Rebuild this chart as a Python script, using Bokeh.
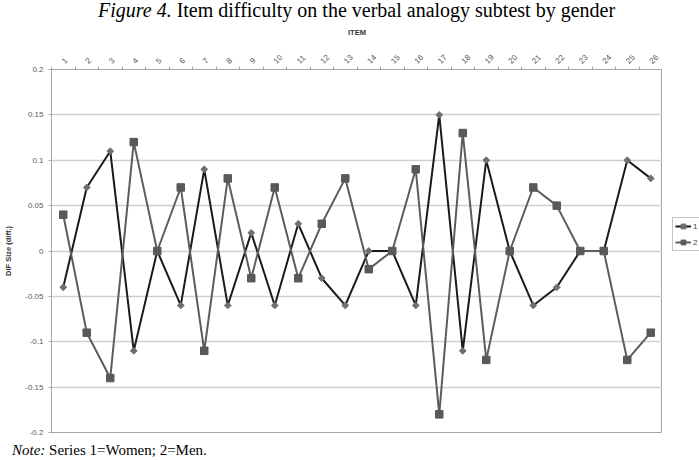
import math
from bokeh.plotting import figure
from bokeh.layouts import column, row
from bokeh.models import FixedTicker, Legend, LegendItem, Div
from bokeh.embed import file_html
from bokeh.resources import INLINE

# ---- data ----
items = [1, 2, 3, 4, 5, 6, 7, 8, 9, 10, 11, 12, 13, 14, 15, 16, 17, 18, 19, 20, 21, 22, 23, 24, 25, 26]
item_labels = ["1", "2", "3", "4", "5", "6", "7", "8", "9", "10", "11", "12", "13",
               "14", "15", "16", "17", "18", "19", "20", "21", "22", "23", "24", "25", "26"]
women = [-0.04, 0.07, 0.11, -0.11, 0.00, -0.06, 0.09, -0.06, 0.02, -0.06, 0.03, -0.03, -0.06,
         0.00, 0.00, -0.06, 0.15, -0.11, 0.10, 0.00, -0.06, -0.04, 0.00, 0.00, 0.10, 0.08]
men = [0.04, -0.09, -0.14, 0.12, 0.00, 0.07, -0.11, 0.08, -0.03, 0.07, -0.03, 0.03, 0.08,
       -0.02, 0.00, 0.09, -0.18, 0.13, -0.12, 0.00, 0.07, 0.05, 0.00, 0.00, -0.12, -0.09]
y_ticks = [-0.2, -0.15, -0.1, -0.05, 0, 0.05, 0.1, 0.15, 0.2]
y_tick_labels = ["-0.2", "-0.15", "-0.1", "-0.05", "0", "0.05", "0.1", "0.15", "0.2"]
series_labels = ["1", "2"]
x_axis_title = "ITEM"
y_axis_title = "DIF Size (diff.)"
title_italic = "Figure 4."
title_rest = "Item difficulty on the verbal analogy subtest by gender"
note_italic = "Note:"
note_rest = "Series 1=Women; 2=Men."

W = 699
PW = 662      # main plot width (frame ends at its right edge)
LW = W - PW   # legend strip width
H = 416

women_style = dict(line_color="#1a1a1a", line_width=2)
women_marker = dict(marker="square", angle=math.pi / 4, size=4.8,
                    fill_color="#6e6e6e", line_color="#6e6e6e")
men_style = dict(line_color="#5c5c5c", line_width=2)
men_marker = dict(marker="square", size=7.5, fill_color="#595959", line_color="#595959")

# ---- title ----
title_div = Div(
    text=('<div style="width:%dpx;text-align:center;padding-left:14px;box-sizing:border-box;'
          'font-family:\'Liberation Serif\',serif;font-size:20px;line-height:20px;'
          'white-space:nowrap;color:#000;"><i>%s</i> %s</div>') % (W, title_italic, title_rest),
    width=W, height=24, margin=0)

# ---- main figure ----
p = figure(width=PW, height=H, x_range=(0.5, 26.5), y_range=(-0.2, 0.2),
           x_axis_location="above", output_backend="svg", toolbar_location=None,
           min_border_left=51, min_border_right=0, min_border_top=45, min_border_bottom=8,
           margin=0)
p.background_fill_color = "white"
p.border_fill_color = "white"
p.outline_line_color = "#a6a6a6"
p.outline_line_width = 1

# x axis (top)
boundaries = [i - 0.5 for i in items] + [items[-1] + 0.5]
xax = p.xaxis[0]
xax.ticker = FixedTicker(ticks=items, minor_ticks=boundaries)
xax.major_label_overrides = {i: lab for i, lab in zip(items, item_labels)}
xax.major_tick_line_color = None
xax.minor_tick_line_color = "#a6a6a6"
xax.minor_tick_in = 0
xax.minor_tick_out = 3
xax.axis_line_color = "#a6a6a6"
xax.major_label_orientation = math.pi / 4
xax.major_label_text_font = "Liberation Sans"
xax.major_label_text_font_size = "8px"
xax.major_label_text_color = "#595959"
xax.major_label_standoff = 1
xax.axis_label = x_axis_title
xax.axis_label_text_font = "Liberation Sans"
xax.axis_label_text_font_size = "7.5px"
xax.axis_label_text_font_style = "bold"
xax.axis_label_text_color = "#333333"
xax.axis_label_standoff = 13

# y axis (left)
yax = p.yaxis[0]
yax.ticker = FixedTicker(ticks=y_ticks, minor_ticks=[])
yax.major_label_overrides = {t: lab for t, lab in zip(y_ticks, y_tick_labels)}
yax.major_tick_line_color = "#a6a6a6"
yax.major_tick_in = 0
yax.major_tick_out = 3
yax.minor_tick_line_color = None
yax.axis_line_color = "#a6a6a6"
yax.major_label_text_font = "Liberation Sans"
yax.major_label_text_font_size = "8px"
yax.major_label_text_color = "#595959"
yax.major_label_standoff = 5
yax.axis_label = y_axis_title
yax.axis_label_text_font = "Liberation Sans"
yax.axis_label_text_font_size = "7.5px"
yax.axis_label_text_font_style = "bold"
yax.axis_label_text_color = "#333333"
yax.axis_label_standoff = 9

p.xgrid.grid_line_color = None
p.ygrid.grid_line_color = "#d0d0d0"
p.ygrid.grid_line_width = 1.6

# ---- series ----
p.line(items, women, **women_style)
p.scatter(items, women, **women_marker)
p.line(items, men, **men_style)
p.scatter(items, men, **men_marker)

# ---- legend strip: same series, drawn off-range so only the legend shows ----
pl = figure(width=LW, height=H, x_range=(100, 101), y_range=(100, 101),
            output_backend="svg", toolbar_location=None,
            min_border=0, margin=0, x_axis_location=None, y_axis_location=None)
pl.outline_line_color = None
pl.grid.grid_line_color = None
pl.background_fill_color = "white"
pl.border_fill_color = "white"
rl1 = pl.line(items, women, **women_style)
rs1 = pl.scatter(items, women, **women_marker)
rl2 = pl.line(items, men, **men_style)
rs2 = pl.scatter(items, men, **men_marker)
legend = Legend(items=[LegendItem(label=series_labels[0], renderers=[rl1, rs1]),
                       LegendItem(label=series_labels[1], renderers=[rl2, rs2])],
                location=(10, 181), padding=2, spacing=4, glyph_width=16, glyph_height=12,
                label_height=12, label_standoff=2, label_text_font="Liberation Sans",
                label_text_font_size="8px", border_line_color="#8c8c8c", border_line_width=1,
                background_fill_color="white", background_fill_alpha=1.0, margin=0)
pl.add_layout(legend)

# ---- note ----
note_div = Div(
    text=('<div style="padding-left:12px;font-family:\'Liberation Serif\',serif;font-size:15px;'
          'line-height:20px;white-space:nowrap;color:#000;"><i>%s</i> %s</div>') % (note_italic, note_rest),
    width=W, height=21, margin=0)

layout = column(title_div, row(p, pl, spacing=0, margin=0), note_div, spacing=0, margin=0)
open("out.html", "w").write(file_html(layout, INLINE))
